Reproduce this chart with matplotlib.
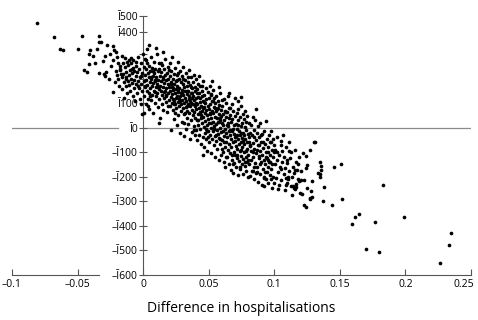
import matplotlib
matplotlib.use("Agg")
import matplotlib.pyplot as plt
import matplotlib.transforms as mtransforms

plt.rcParams['font.family'] = ['Open Sans', 'DejaVu Sans']

# ---- data ----
pts_left = [(-0.081,428),(-0.068,372),(-0.0635,321),(-0.061,316),(-0.0496,323),(-0.047,373),(-0.0448,236),(-0.0427,228),(-0.0412,261),(-0.041,302),(-0.0404,318),
(-0.0381,291),(-0.0353,323),(-0.0333,376),(-0.034,348),(-0.0323,348),(-0.0338,225),(-0.0297,220),(-0.028,228),(-0.0288,209),(-0.0307,273),(-0.029,291),(-0.0275,336),(-0.0227,332),(-0.0219,316),(-0.0208,307),(-0.0198,287),(-0.0231,277),(-0.0229,146),(-0.0194,266),(-0.0178,253),(-0.0173,236),(-0.0206,230),(-0.0203,215),(-0.0168,220),(-0.0365,262),(-0.0255,300),(-0.0245,250),(-0.0262,198),(-0.0215,185),
(-0.0158,294),(-0.014,283),(-0.0125,270),(-0.0107,276),(-0.0092,283),(-0.0074,276),(-0.0056,270),(-0.0188,198),(-0.0182,172),(-0.0176,240),(-0.0165,205),(-0.0161,158),(-0.0155,262),(-0.0152,221),(-0.0148,187),(-0.0143,120),(-0.0138,246),(-0.0134,205),(-0.0131,170),(-0.0127,228),(-0.0121,142),(-0.0118,192),(-0.0115,255),(-0.0111,214),(-0.0105,176),(-0.0102,234),(-0.0098,150),(-0.0095,200),(-0.0091,262),(-0.0087,182),(-0.0083,222),(-0.008,128),(-0.0077,245),(-0.0072,196),(-0.0069,160),(-0.0066,232),(-0.0062,108),(-0.0058,210),(-0.0054,178),(-0.0051,250),(-0.0047,140),(-0.0044,226),(-0.004,192),(-0.0036,290),(-0.0033,162),(-0.003,240),(-0.0026,205),(-0.0022,118),(-0.0019,265),(-0.0016,180),(-0.0012,222),(-0.0009,56),(-0.0006,150),(-0.0003,300),(-0.0015,98)]

pts_a = [(0.0003,248),(0.0006,190),(0.0008,130),(0.0011,282),(0.0013,215),(0.0016,168),(0.0018,95),(0.0021,238),(0.0023,195),(0.0026,150),(0.0028,320),(0.0031,262),(0.0033,175),(0.0036,118),(0.0038,222),(0.0041,205),(0.0043,140),(0.0046,78),(0.0048,252),(0.0051,185),(0.0053,160),(0.0056,230),(0.0058,112),(0.0061,290),(0.0063,198),(0.0066,172),(0.0068,135),(0.0071,245),(0.0073,210),(0.0076,58),(0.0078,182),(0.0081,268),(0.0083,148),(0.0086,222),(0.0088,190),(0.0091,102),(0.0093,240),(0.0096,165),(0.0098,128),(0.0101,205),(0.0103,300),(0.0106,178),(0.0108,142),(0.0111,85),(0.0113,232),(0.0116,195),(0.0118,158),(0.0121,262),(0.0123,118),(0.0126,210),(0.0128,172),(0.0131,40),(0.0133,228),(0.0136,150),(0.0138,190),(0.0141,98),(0.0143,255),(0.0146,135),(0.0148,205),(0.0151,168),(0.0153,72),(0.0156,238),(0.0158,182),(0.0161,120),(0.0163,150),(0.0166,215),(0.0168,280),(0.0171,105),(0.0173,195),(0.0176,160),(0.0178,132),(0.0181,225),(0.0183,62),(0.0186,178),(0.0188,248),(0.0191,142),(0.0193,200),(0.0196,112),(0.0198,165),(0.0045,338),(0.0095,325),(0.0150,310),(0.0005,60),(0.012,20)]

pts_b = [(0.0201,210),(0.0203,88),(0.0205,150),(0.0207,262),(0.0209,125),(0.0211,185),(0.0213,-8),(0.0215,232),(0.0217,100),(0.0219,165),(0.0221,138),(0.0223,288),(0.0225,72),(0.0227,198),(0.0229,118),(0.0231,155),(0.0233,220),(0.0235,35),(0.0237,178),(0.0239,96),(0.0241,140),(0.0243,245),(0.0245,60),(0.0247,120),(0.0249,190),(0.0251,158),(0.0253,82),(0.0255,215),(0.0257,130),(0.0259,10),(0.0261,172),(0.0263,105),(0.0265,268),(0.0267,145),(0.0269,52),(0.0271,200),(0.0273,118),(0.0275,88),(0.0277,162),(0.0279,230),(0.0281,128),(0.0283,-20),(0.0285,185),(0.0287,70),(0.0289,140),(0.0291,98),(0.0293,210),(0.0295,155),(0.0297,25),(0.0299,115),(0.0301,178),(0.0303,80),(0.0305,248),(0.0307,132),(0.0309,-35),(0.0311,165),(0.0313,100),(0.0315,55),(0.0317,195),(0.0319,122),(0.0321,148),(0.0323,-5),(0.0325,85),(0.0327,222),(0.0329,110),(0.0331,40),(0.0333,170),(0.0335,138),(0.0337,68),(0.0339,188),(0.0341,95),(0.0343,15),(0.0345,150),(0.0347,118),(0.0349,235),(0.0351,58),(0.0353,130),(0.0355,-45),(0.0357,175),(0.0359,90),(0.0361,108),(0.0363,30),(0.0365,205),(0.0367,142),(0.0369,72),(0.0371,120),(0.0373,-18),(0.0375,160),(0.0377,50),(0.0379,95),(0.0381,185),(0.0383,130),(0.0385,8),(0.0387,112),(0.0389,65),(0.0391,215),(0.0393,150),(0.0395,-30),(0.0397,88),(0.0399,40),(0.0404,199)]

pts_c = [(0.0401,120),(0.0403,-10),(0.0405,75),(0.0407,158),(0.0409,30),(0.0411,98),(0.0413,-52),(0.0415,180),(0.0417,55),(0.0419,125),(0.0421,12),(0.0423,82),(0.0425,210),(0.0427,-28),(0.0429,140),(0.0431,62),(0.0433,105),(0.0435,-5),(0.0437,170),(0.0439,40),(0.0441,88),(0.0443,-65),(0.0445,128),(0.0447,20),(0.0449,150),(0.0451,68),(0.0453,-38),(0.0455,110),(0.0457,45),(0.0459,192),(0.0461,2),(0.0463,85),(0.0465,-80),(0.0467,135),(0.0469,58),(0.0471,-20),(0.0473,100),(0.0475,28),(0.0477,160),(0.0479,72),(0.0481,-48),(0.0483,118),(0.0485,10),(0.0487,50),(0.0489,-95),(0.0491,90),(0.0493,145),(0.0495,-12),(0.0497,35),(0.0499,78),(0.0501,-60),(0.0503,122),(0.0505,18),(0.0507,172),(0.0509,55),(0.0511,-30),(0.0513,95),(0.0515,0),(0.0517,138),(0.0519,40),(0.0521,-105),(0.0523,70),(0.0525,-45),(0.0527,108),(0.0529,25),(0.0531,-15),(0.0533,155),(0.0535,60),(0.0537,-72),(0.0539,85),(0.0541,8),(0.0543,120),(0.0545,-35),(0.0547,45),(0.0549,-120),(0.0551,100),(0.0553,15),(0.0555,-55),(0.0557,68),(0.0559,130),(0.0561,-8),(0.0563,38),(0.0565,-88),(0.0567,80),(0.0569,-25),(0.0571,110),(0.0573,22),(0.0575,-130),(0.0577,55),(0.0579,-42),(0.0581,92),(0.0583,0),(0.0585,140),(0.0587,-68),(0.0589,30),(0.0591,-110),(0.0593,72),(0.0595,-18),(0.0597,48),(0.0599,115),(0.0455,-110),(0.0525,190),(0.0575,165)]

pts_d = [(0.0601,-50),(0.0603,20),(0.0605,88),(0.0607,-100),(0.0609,-15),(0.0611,55),(0.0613,-140),(0.0615,118),(0.0617,-35),(0.0619,30),(0.0621,-80),(0.0623,70),(0.0625,-5),(0.0627,-160),(0.0629,45),(0.0631,-58),(0.0633,100),(0.0635,-22),(0.0637,12),(0.0639,-118),(0.0641,62),(0.0643,-40),(0.0645,-90),(0.0647,130),(0.0649,5),(0.0651,-68),(0.0653,38),(0.0655,-150),(0.0657,80),(0.0659,-28),(0.0661,-8),(0.0663,-105),(0.0665,50),(0.0667,-173),(0.0669,-45),(0.0671,22),(0.0673,-78),(0.0675,95),(0.0677,-12),(0.0679,-130),(0.0681,35),(0.0683,-60),(0.0685,-185),(0.0687,68),(0.0689,-25),(0.0691,-98),(0.0693,10),(0.0695,-145),(0.0697,48),(0.0699,-55),(0.0701,-110),(0.0703,120),(0.0705,-35),(0.0707,-75),(0.0709,15),(0.0711,-160),(0.0713,58),(0.0715,-88),(0.0717,-5),(0.0719,-125),(0.0721,30),(0.0722,107),(0.0723,-48),(0.0725,-195),(0.0727,75),(0.0729,-68),(0.0731,-15),(0.0733,-138),(0.0735,42),(0.0737,-95),(0.0739,-30),(0.0741,-170),(0.0743,5),(0.0745,-60),(0.0747,90),(0.0749,-115),(0.0751,-42),(0.0753,20),(0.0755,-150),(0.0757,-80),(0.0759,55),(0.0761,-20),(0.0763,-128),(0.0765,-190),(0.0767,35),(0.0769,-65),(0.0771,-100),(0.0773,2),(0.0775,-155),(0.0777,70),(0.0779,-45),(0.0781,-118),(0.0783,-10),(0.0785,-178),(0.0787,25),(0.0789,-85),(0.0791,-140),(0.0793,48),(0.0795,-58),(0.0797,-200),(0.0799,-25),(0.0655,140),(0.0745,125)]

pts_e = [(0.0801,-110),(0.0804,-40),(0.0807,20),(0.0810,-150),(0.0813,-75),(0.0816,-198),(0.0819,10),(0.0822,-95),(0.0825,-130),(0.0828,-30),(0.0831,-175),(0.0834,45),(0.0837,-62),(0.0840,-118),(0.0843,-210),(0.0846,-8),(0.0849,-88),(0.0852,-145),(0.0855,30),(0.0858,-50),(0.0861,-185),(0.0862,75),(0.0864,-105),(0.0867,-20),(0.0870,-160),(0.0873,-70),(0.0876,-220),(0.0879,5),(0.0882,-125),(0.0885,-40),(0.0888,-190),(0.0891,-95),(0.0894,18),(0.0897,-140),(0.0900,-60),(0.0903,-235),(0.0906,-110),(0.0909,-25),(0.0912,-168),(0.0915,-82),(0.0918,-205),(0.0921,-130),(0.0924,-15),(0.0925,-239),(0.0927,-150),(0.0930,-65),(0.0933,-180),(0.0936,-100),(0.0938,27),(0.0940,-210),(0.0943,-45),(0.0946,-125),(0.0949,-160),(0.0952,-80),(0.0955,-225),(0.0958,-30),(0.0961,-140),(0.0964,-195),(0.0967,-58),(0.0970,-112),(0.0973,-170),(0.0976,-12),(0.0979,-245),(0.0982,-90),(0.0985,-150),(0.0988,-48),(0.0991,-200),(0.0994,-120),(0.0997,-225),(0.0999,-70),(0.0835,-175),(0.0885,-115),(0.0955,-100)]

pts_f = [(0.1003,-150),(0.1008,-90),(0.1012,-205),(0.1017,-40),(0.1021,-130),(0.1026,-180),(0.1030,-250),(0.1035,-234),(0.1039,-110),(0.1044,-160),(0.1048,-70),(0.1053,-215),(0.1057,-140),(0.1062,-95),(0.1066,-30),(0.1071,-190),(0.1075,-120),(0.1080,-255),(0.1084,-165),(0.1088,-234),(0.1092,-80),(0.1096,-227),(0.1100,-145),(0.1105,-200),(0.1106,-210),(0.1110,-60),(0.1115,-175),(0.1120,-125),(0.1125,-240),(0.1130,-100),(0.1135,-276),(0.1140,-160),(0.1144,-239),(0.1147,-246),(0.1150,-185),(0.1155,-251),(0.1157,-173),(0.1160,-90),(0.1162,-243),(0.1165,-140),(0.1172,-173),(0.1178,-150),(0.1180,-210),(0.1185,-216),(0.1190,-120),(0.1195,-265),(0.1200,-212),(0.1200,-175),(0.1086,-207)]

pts_tail = [(0.121,-270),(0.122,-105),(0.1228,-212),(0.123,-317),(0.124,-117),(0.1245,-165),(0.1245,-325),(0.125,-154),(0.125,-246),(0.1276,-93),(0.127,-292),(0.127,-289),(0.128,-257),(0.129,-281),(0.129,-216),(0.130,-57),(0.131,-59),(0.1335,-183),(0.1345,-202),(0.135,-191),(0.1348,-141),(0.1353,-156),(0.1358,-171),(0.1368,-298),(0.138,-242),(0.144,-314),(0.1457,-162),(0.151,-150),(0.1515,-292),(0.159,-392),(0.1617,-363),(0.1645,-352),(0.170,-494),(0.177,-386),(0.1795,-507),(0.183,-234),(0.199,-366),(0.226,-554),(0.2334,-478),(0.2347,-429)]

pts_extra = [(0.0012,172),(0.0057,205),(0.0094,145),(0.0137,262),(0.0172,128),(0.0209,178),(0.0246,95),(0.0268,225),(0.0296,140),(0.0318,60),(0.0342,205),(0.0366,100),(0.0394,165),(0.0418,30),(0.0436,120),(0.0458,80),(0.0484,-15),(0.0506,60),(0.0532,110),(0.0556,-30),(0.0578,25),(0.0604,-85),(0.0628,65),(0.0652,-15),(0.0676,-110),(0.0698,-40),(0.0724,10),(0.0748,-90),(0.0772,-30),(0.0796,-130),(0.0818,-70),(0.0842,-160),(0.0868,-90),(0.0892,-150),(0.0916,-60),(0.0944,-180),(0.0968,-140),(0.0996,-100),
(0.0034,88),(0.0077,232),(0.0114,165),(0.0152,200),(0.0189,90),(0.0224,160),(0.0258,195),(0.0284,110),(0.0312,20),(0.0338,150),(0.0362,165),(0.0388,-10),(0.0412,140),(0.0442,50),(0.0466,105),(0.0492,-40),(0.0514,135),(0.0538,-5),(0.0562,75),(0.0586,-45),(0.0612,10),(0.0634,-120),(0.0662,80),(0.0688,-150),(0.0714,-30),(0.0736,-160),(0.0762,-55),(0.0784,-95),(0.0812,-20),(0.0838,-100),(0.0866,-180),(0.0898,-30),(0.0922,-200),(0.0952,-130),(0.0978,-60),
(-0.0128,198),(-0.0086,240),(-0.0042,170),(-0.0018,210),(0.0019,275),(0.0052,130),(0.0087,195),(0.0124,240),(0.0159,145),(0.0197,235),(0.0232,110),(0.0266,150),(0.0302,200),(0.0334,90),(0.0372,140),(0.0406,100),(0.0446,170),(0.0476,-5),(0.0518,20),(0.0548,80),(0.0584,40),(0.0618,-60),(0.0646,20),(0.0684,-5),(0.0716,-110),(0.0744,-20),(0.0778,-140),(0.0808,-60),(0.0848,-40),(0.0882,-70),(0.0934,-120),(0.0972,-210),(0.1018,-100),(0.1052,-170),(0.1094,-130),(0.1134,-200),(0.1168,-230),(0.1052,-55),(0.1111,-95)]

all_pts = pts_left + pts_a + pts_b + pts_c + pts_d + pts_e + pts_f + pts_tail + pts_extra
diff_hosp = [p[0] for p in all_pts]
diff_cost = [p[1] for p in all_pts]

x_ticks = [-0.1, -0.05, 0, 0.05, 0.1, 0.15, 0.2, 0.25]
x_labels = ["\u20130.1", "\u20130.05", "0", "0.05", "0.1", "0.15", "0.2", "0.25"]
y_ticks = [-600, -500, -400, -300, -200, -100, 0, 100, 200, 300, 390, 457]
y_labels = ["\u2013\u012a600", "\u2013\u012a500", "\u2013\u012a400", "\u2013\u012a300", "\u2013\u012a200",
            "\u2013\u012a100", "\u012a0", "\u012a100", "", "", "\u012a400", "\u012a500"]

# ---- figure ----
W, H = 478, 320
fig = plt.figure(figsize=(W/100, H/100), dpi=100)
ax = fig.add_axes([12/W, (H-274.7)/H, (471-12)/W, (274.7-15.7)/H])
ax.set_xlim(-0.1, 0.25)
ax.set_ylim(-600, 457)

axis_col = '#555555'
ax.scatter(diff_hosp, diff_cost, s=7, c='black', linewidths=0, zorder=3)

for s in ['top', 'right', 'bottom']:
    ax.spines[s].set_visible(False)
ax.spines['left'].set_position(('data', 0))
ax.spines['left'].set_color(axis_col)
ax.spines['left'].set_linewidth(0.8)

# zero reference line (broken around its label)
ax.plot([-0.1, -0.0195], [0, 0], color='#8a8a8a', lw=0.9, zorder=1)
ax.plot([0, 0.25], [0, 0], color='#8a8a8a', lw=0.9, zorder=1)
# bottom axis line (broken around y labels)
ax.plot([-0.1, -0.0338], [-600, -600], color=axis_col, lw=0.8, clip_on=False)
ax.plot([0, 0.25], [-600, -600], color=axis_col, lw=0.8, clip_on=False)

ax.set_xticks(x_ticks, x_labels)
ax.set_yticks(y_ticks, y_labels)
ax.tick_params(axis='x', direction='in', length=4, width=0.8, color=axis_col,
               labelsize=7.5, pad=3, bottom=True)
ax.tick_params(axis='y', direction='inout', length=6, width=0.8, color=axis_col,
               labelsize=7.5, pad=1)

# last x label sits slightly left of its tick, as in the reference
last = ax.get_xticklabels()[-1]
last.set_transform(last.get_transform() +
                   mtransforms.ScaledTranslation(-7/100, 0, fig.dpi_scale_trans))

ax.set_xlabel("Difference in hospitalisations", fontsize=10, labelpad=8)

fig.savefig("out.png", dpi=100)
